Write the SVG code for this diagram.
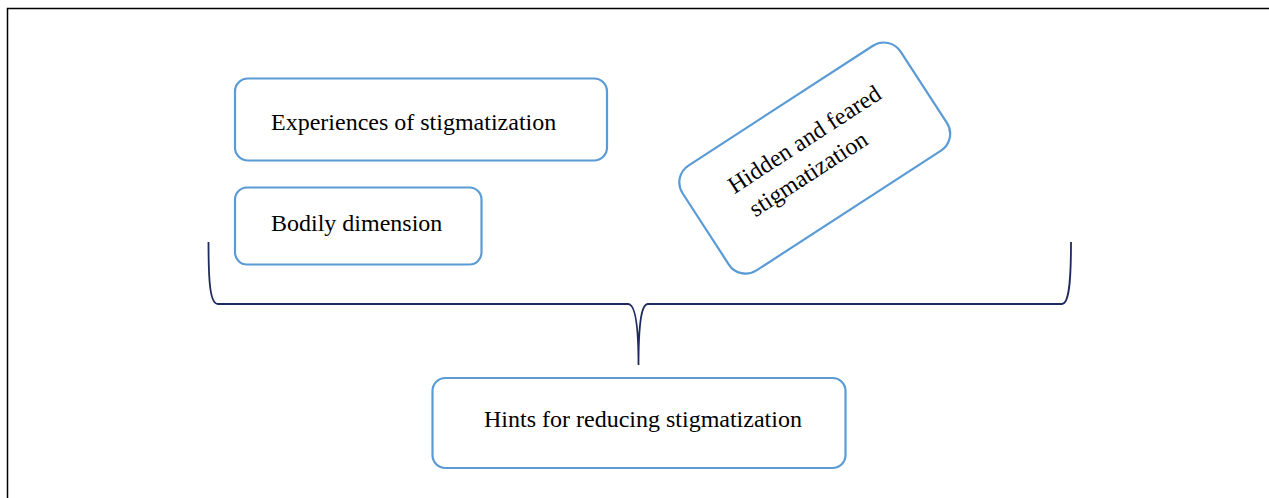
<svg xmlns="http://www.w3.org/2000/svg" width="1269" height="498" viewBox="0 0 1269 498">
<style>
.box{fill:#fff;stroke:#5B9BD5;stroke-width:2.2}
.lbl{font-family:"Liberation Serif","Times New Roman",serif;font-size:24px;fill:#000}
.brace{fill:none;stroke:#1F2A5E;stroke-width:1.8}
</style>
<rect width="1269" height="498" fill="#fff"/>
<g id="frame"><path d="M7.5,498 L7.5,8.5 L1269,8.5" fill="none" stroke="#000" stroke-width="1.5"/></g>
<g id="connectors">
<path class="brace" d="M208.5,242 C208.5,282 210,304 218,304 L628,304 C634,304 638.5,320 638.5,365 C638.5,320 642,304 648,304 L1062,304 C1069,304 1071,282 1071,242"/>
</g>
<g id="node-experiences">
<rect class="box" x="235" y="78.5" width="372" height="82" rx="13"/>
<text class="lbl" x="271" y="129.5">Experiences of stigmatization</text>
</g>
<g id="node-bodily">
<rect class="box" x="235" y="187.5" width="246.5" height="77" rx="12"/>
<text class="lbl" x="271" y="231">Bodily dimension</text>
</g>
<g id="node-hidden" transform="translate(815,158.5) rotate(-33)">
<rect class="box" x="-130" y="-63" width="260" height="125" rx="20"/>
<text class="lbl" x="-87" y="-14">Hidden and feared</text>
<text class="lbl" x="-82" y="17">stigmatization</text>
</g>
<g id="node-hints">
<rect class="box" x="432.5" y="378" width="413" height="90" rx="13"/>
<text class="lbl" x="484" y="426.5">Hints for reducing stigmatization</text>
</g>
</svg>
